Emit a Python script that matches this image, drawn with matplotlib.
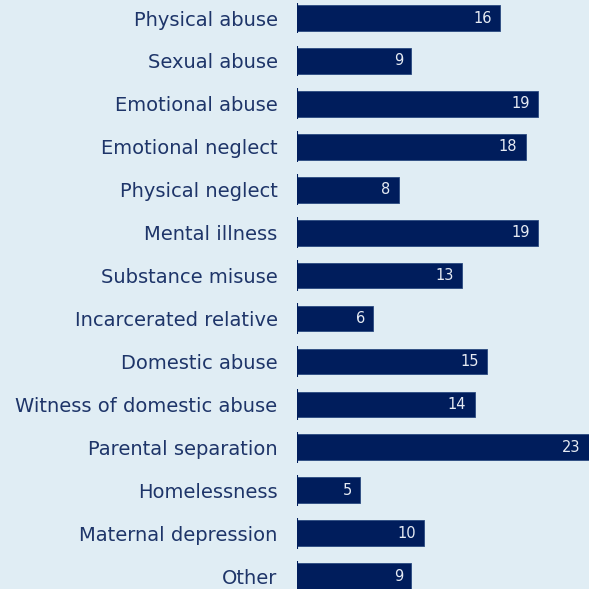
import matplotlib.pyplot as plt

categories = ["Physical abuse", "Sexual abuse", "Emotional abuse", "Emotional neglect",
              "Physical neglect", "Mental illness", "Substance misuse", "Incarcerated relative",
              "Domestic abuse", "Witness of domestic abuse", "Parental separation",
              "Homelessness", "Maternal depression", "Other"]
values = [16, 9, 19, 18, 8, 19, 13, 6, 15, 14, 23, 5, 10, 9]

bg = "#e0edf4"
navy = "#001d5c"
label_col = "#1e3569"

fig = plt.figure(figsize=(5.89, 5.89), dpi=100, facecolor=bg)
ax = fig.add_axes([297 / 589, 0, 292 / 589, 1])
ax.set_facecolor(bg)

pos = list(range(len(categories)))
ax.barh(pos, values, height=0.6, color=navy, edgecolor="#2a4a80", linewidth=0.6)
ax.vlines([0] * len(pos), [p - 0.36 for p in pos], [p + 0.36 for p in pos],
          color=navy, linewidth=1.5)

for p, v in zip(pos, values):
    ax.annotate(str(v), (v, p), xytext=(-6, 0), textcoords="offset points",
                ha="right", va="center", color="#e6ebf3", fontsize=10.5,
                family="DejaVu Sans")

ax.set_xlim(0, 23)
ax.set_ylim(13.30, -0.42)
ax.set_yticks(pos)
ax.set_yticklabels(categories, fontsize=14, color=label_col)
ax.tick_params(axis="y", length=0, pad=14)
ax.set_xticks([])
for s in ax.spines.values():
    s.set_visible(False)

fig.savefig("out.png", dpi=100, facecolor=bg)
